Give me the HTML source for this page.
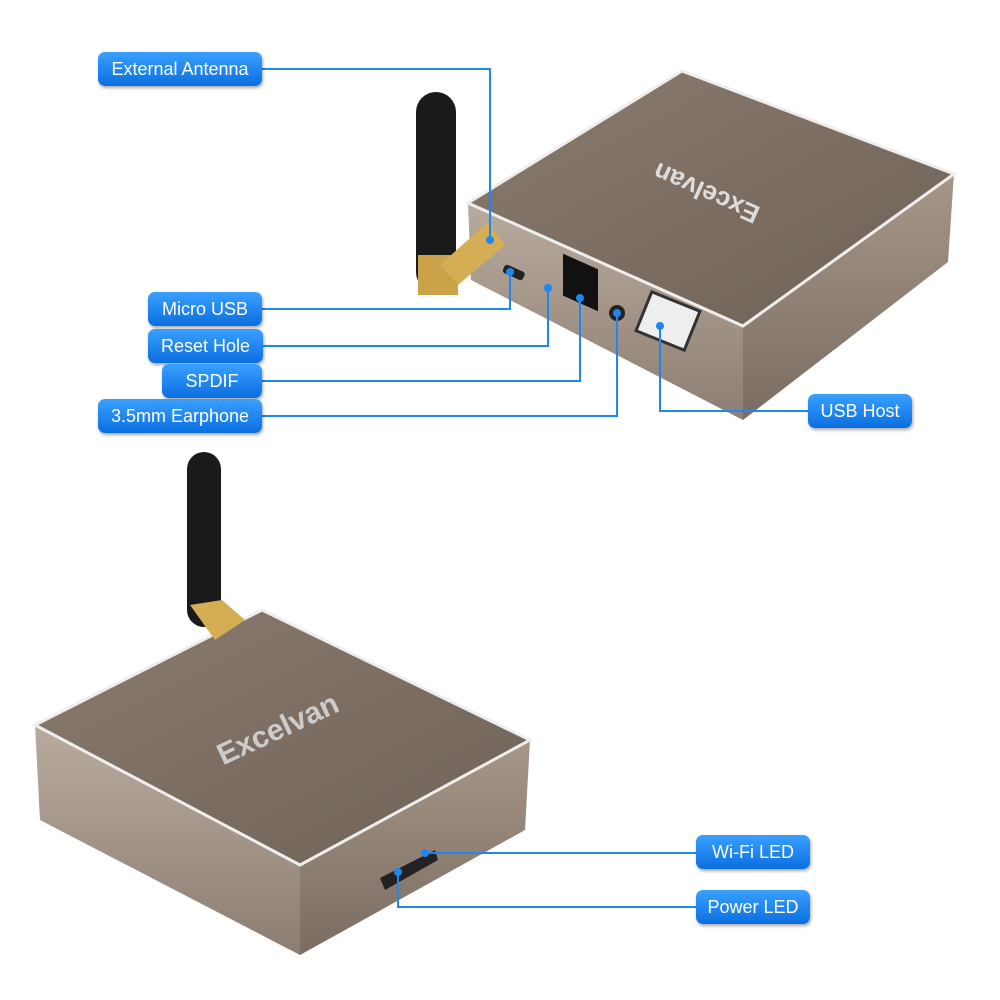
<!DOCTYPE html>
<html><head><meta charset="utf-8"><style>
html,body{margin:0;padding:0;background:#fff;}
.lb{position:absolute;height:34px;border-radius:7px;background:linear-gradient(#3aa0ff,#0a6fe0);color:#fff;font-family:"Liberation Sans",sans-serif;font-size:18px;line-height:34px;text-align:center;box-shadow:1px 2px 3px rgba(0,0,0,.35);}
</style></head><body>
<div style="position:relative;width:1000px;height:1000px;overflow:hidden">
<svg width="1000" height="1000" style="position:absolute;left:0;top:0">
<defs>
<linearGradient id="tp" x1="0" y1="0" x2="1" y2="1"><stop offset="0" stop-color="#8a7b6e"/><stop offset="1" stop-color="#6e6157"/></linearGradient>
<linearGradient id="sd" x1="0" y1="0" x2="0" y2="1"><stop offset="0" stop-color="#b8ab9e"/><stop offset="1" stop-color="#8c7e72"/></linearGradient>
<linearGradient id="sd2" x1="0" y1="0" x2="0" y2="1"><stop offset="0" stop-color="#a69788"/><stop offset="1" stop-color="#7a6c61"/></linearGradient>
</defs>
<!-- top box -->
<polygon points="468,203 743,326 743,420 471,280" fill="url(#sd)"/>
<polygon points="743,326 954,174 948,262 743,420" fill="url(#sd2)"/>
<polygon points="468,203 682,71 954,174 743,326" fill="url(#tp)" stroke="#eee" stroke-width="3"/>
<text x="710" y="185" transform="rotate(24 710 185) rotate(180 710 185)" font-family="Liberation Sans" font-weight="bold" font-size="26" fill="#ddd" text-anchor="middle">Excelvan</text>
<rect x="563" y="255" width="35" height="42" fill="#111" transform="skewY(24) translate(0,-252)"/>
<circle cx="617" cy="313" r="8" fill="#222"/>
<rect x="642" y="300" width="52" height="42" fill="#eee" stroke="#333" stroke-width="3" transform="rotate(22 668 321)"/>
<rect x="503" y="268" width="22" height="9" rx="3" fill="#222" transform="rotate(24 514 272)"/>
<!-- top antenna -->
<rect x="416" y="92" width="40" height="200" rx="20" fill="#1a1a1a"/>
<rect x="418" y="255" width="40" height="40" fill="#c9a24a"/>
<polygon points="440,265 488,222 505,245 458,285" fill="#d4ad55"/>
<!-- bottom box -->
<polygon points="35,725 300,865 300,955 40,820" fill="url(#sd)"/>
<polygon points="300,865 530,740 525,830 300,955" fill="url(#sd2)"/>
<polygon points="35,725 262,610 530,740 300,865" fill="url(#tp)" stroke="#eee" stroke-width="3"/>
<text x="282" y="738" transform="rotate(-25 282 738)" font-family="Liberation Sans" font-weight="bold" font-size="30" fill="#ccc" text-anchor="middle">Excelvan</text>
<polygon points="380,878 435,850 438,860 385,890" fill="#222"/>
<!-- bottom antenna -->
<rect x="187" y="452" width="34" height="175" rx="17" fill="#1a1a1a"/>
<polygon points="190,605 222,600 245,620 215,640" fill="#d4ad55"/>
<!-- lines -->
<g stroke="#1e88f0" stroke-width="2" fill="none">
<polyline points="262,69 490,69 490,240"/>
<polyline points="262,309 510,309 510,272"/>
<polyline points="262,346 548,346 548,288"/>
<polyline points="262,381 580,381 580,298"/>
<polyline points="262,416 617,416 617,313"/>
<polyline points="808,411 660,411 660,326"/>
<polyline points="696,853 425,853"/>
<polyline points="696,907 398,907 398,872"/>
</g>
<g fill="#1e88f0">
<circle cx="490" cy="240" r="4"/><circle cx="510" cy="272" r="4"/><circle cx="548" cy="288" r="4"/>
<circle cx="580" cy="298" r="4"/><circle cx="617" cy="313" r="4"/><circle cx="660" cy="326" r="4"/>
<circle cx="425" cy="853" r="4"/><circle cx="398" cy="872" r="4"/>
</g>
</svg>
<div class="lb" style="left:98px;top:52px;width:164px">External Antenna</div>
<div class="lb" style="left:148px;top:292px;width:114px">Micro USB</div>
<div class="lb" style="left:148px;top:329px;width:115px">Reset Hole</div>
<div class="lb" style="left:162px;top:364px;width:100px">SPDIF</div>
<div class="lb" style="left:98px;top:399px;width:164px">3.5mm Earphone</div>
<div class="lb" style="left:808px;top:394px;width:104px">USB Host</div>
<div class="lb" style="left:696px;top:835px;width:114px">Wi-Fi LED</div>
<div class="lb" style="left:696px;top:890px;width:114px">Power LED</div>
</div>
</body></html>
